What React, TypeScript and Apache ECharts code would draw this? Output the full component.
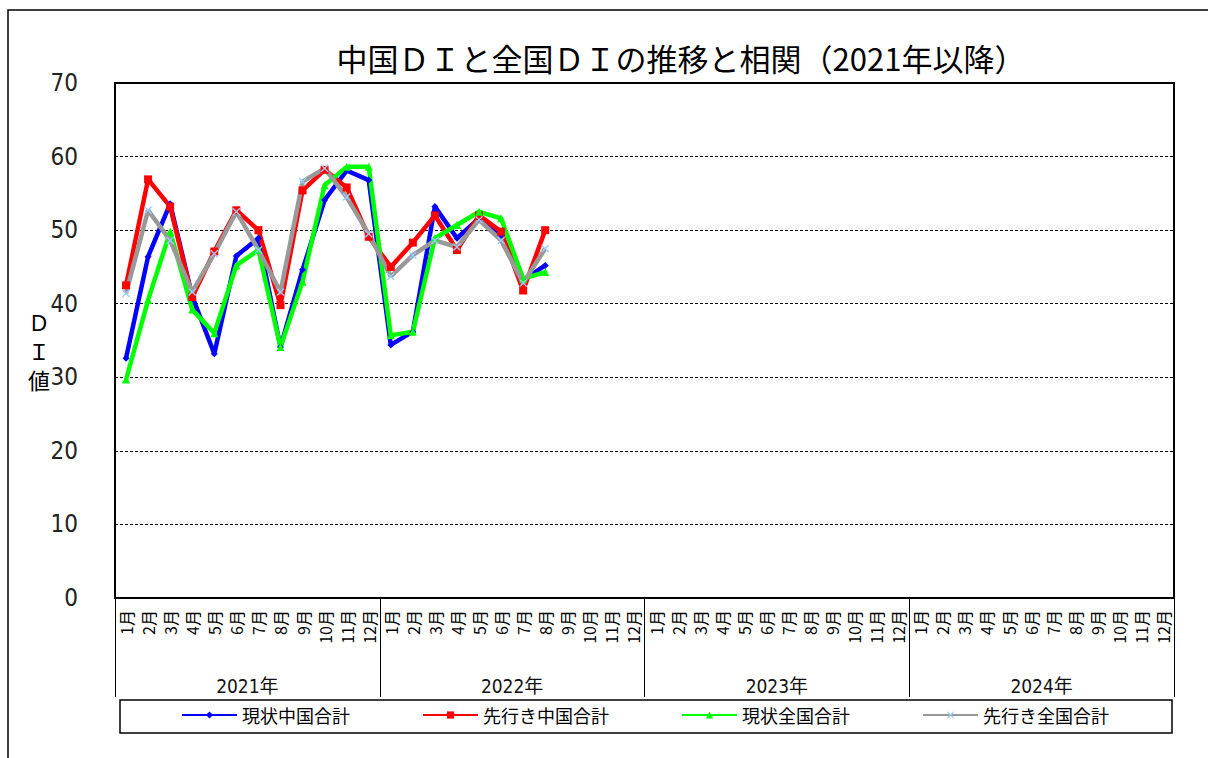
import React, { useEffect, useRef } from "react";
import * as echarts from "echarts";

const years = ["2021年", "2022年", "2023年", "2024年"];
const monthNames = ["1月", "2月", "3月", "4月", "5月", "6月", "7月", "8月", "9月", "10月", "11月", "12月"];
const categories: string[] = years.flatMap(() => monthNames);

const genjoChugoku = [32.6, 46.4, 53.6, 41.0, 33.2, 46.5, 48.9, 34.1, 44.6, 54.1, 58.1, 56.8, 34.4, 36.2, 53.2, 48.9, 51.6, 49.3, 43.2, 45.2];
const sakiChugoku = [42.5, 56.9, 53.2, 40.9, 47.1, 52.7, 50.0, 39.8, 55.4, 58.2, 55.8, 49.1, 45.0, 48.3, 52.0, 47.3, 52.0, 49.8, 41.8, 50.0];
const genjoZenkoku = [29.7, 40.5, 49.8, 39.2, 36.0, 45.2, 47.3, 34.1, 43.0, 56.1, 58.6, 58.6, 35.7, 36.2, 48.9, 50.7, 52.5, 51.6, 43.4, 44.3];
const sakiZenkoku = [41.4, 52.7, 48.6, 41.6, 46.8, 52.5, 47.3, 41.6, 56.6, 58.4, 54.5, 49.5, 43.7, 46.6, 48.6, 47.7, 51.4, 48.6, 42.8, 47.5];

const seriesNames = ["現状中国合計", "先行き中国合計", "現状全国合計", "先行き全国合計"];
const yNameChars = ["Ｄ", "Ｉ", "値"];

const pad = (arr: number[]) => categories.map((_, i) => (i < arr.length ? arr[i] : null));

const CJK = "'Noto Sans CJK JP', 'Noto Sans', sans-serif";
const NARROW = "'Liberation Sans Narrow', 'DejaVu Sans Condensed', 'Noto Sans CJK JP', sans-serif";

const xPath = "path://M0,1.2 L1.2,0 L5,3.8 L8.8,0 L10,1.2 L6.2,5 L10,8.8 L8.8,10 L5,6.2 L1.2,10 L0,8.8 L3.8,5 Z";

export default function App() {
  const ref = useRef<HTMLDivElement>(null);
  useEffect(() => {
    document.body.style.margin = "0";
    if (!ref.current) return;
    const chart = echarts.init(ref.current, undefined, { renderer: "svg" });
    const mk = (name: string, data: number[], color: string, symbol: string, size: number, symColor?: string) => ({
      name,
      type: "line",
      data: pad(data),
      connectNulls: false,
      symbol,
      symbolSize: size,
      showAllSymbol: true,
      lineStyle: { color, width: 4.5 },
      itemStyle: { color: symColor || color },
      xAxisIndex: 0,
    });
    chart.setOption({
      animation: false,
      backgroundColor: "#fff",
      textStyle: { fontFamily: CJK },
      grid: { left: 115, right: 34, top: 83, bottom: 160, show: true, borderColor: "#000", borderWidth: 2 },
      legend: {
        left: 181,
        top: 706,
        padding: 0,
        itemGap: 72,
        itemWidth: 55,
        itemHeight: 9,
        textStyle: { fontSize: 18, color: "#000", fontFamily: CJK },
        data: seriesNames,
      },
      xAxis: [
        {
          type: "category",
          data: categories,
          position: "bottom",
          boundaryGap: true,
          axisLine: { show: true, lineStyle: { color: "#000", width: 2 } },
          axisTick: { show: false },
          axisLabel: { interval: 0, rotate: 90, margin: 12, fontSize: 16, color: "#000", fontFamily: CJK },
          splitLine: { show: false },
        },
        {
          type: "category",
          data: years,
          position: "bottom",
          boundaryGap: true,
          axisLine: { show: false },
          axisTick: { show: true, length: 99, interval: 0, lineStyle: { color: "#000", width: 1 } },
          axisLabel: { interval: 0, margin: 78, fontSize: 19, color: "#111", fontFamily: NARROW },
          splitLine: { show: false },
        },
      ],
      yAxis: {
        type: "value",
        min: 0,
        max: 70,
        interval: 10,
        axisLine: { show: true, lineStyle: { color: "#000", width: 2 } },
        axisTick: { show: false },
        axisLabel: { margin: 37, fontSize: 24, color: "#222", fontFamily: NARROW },
        splitLine: { show: true, lineStyle: { color: "#000", type: [3, 2], width: 1 } },
      },
      graphic: [
        {
          type: "rect",
          shape: { x: 8, y: 10, width: 1230, height: 780 },
          style: { fill: "none", stroke: "#000", lineWidth: 1.5 },
          silent: true,
        },
        {
          type: "text",
          x: 681,
          y: 57,
          style: {
            text: "中国ＤＩと全国ＤＩの推移と相関（2021年以降）",
            fontSize: 31,
            fontFamily: CJK,
            fill: "#000",
            align: "center",
            verticalAlign: "middle",
          },
        },
        ...yNameChars.map((ch, i) => ({
          type: "text",
          x: 39,
          y: 321 + i * 29,
          style: {
            text: ch,
            fontSize: 22,
            fontFamily: CJK,
            fill: "#000",
            align: "center",
            verticalAlign: "middle",
          },
        })),
        {
          type: "rect",
          shape: { x: 120, y: 700, width: 1052, height: 33 },
          style: { fill: "none", stroke: "#000", lineWidth: 1.5 },
          silent: true,
        },
      ],
      series: [
        mk(seriesNames[0], genjoChugoku, "#0000FF", "diamond", 7),
        mk(seriesNames[1], sakiChugoku, "#FF0000", "rect", 8),
        mk(seriesNames[2], genjoZenkoku, "#00FF00", "triangle", 8),
        mk(seriesNames[3], sakiZenkoku, "#999999", xPath, 8, "#99CCFF"),
      ],
    });
    return () => chart.dispose();
  }, []);
  return <div ref={ref} style={{ width: 1208, height: 758 }} />;
}
